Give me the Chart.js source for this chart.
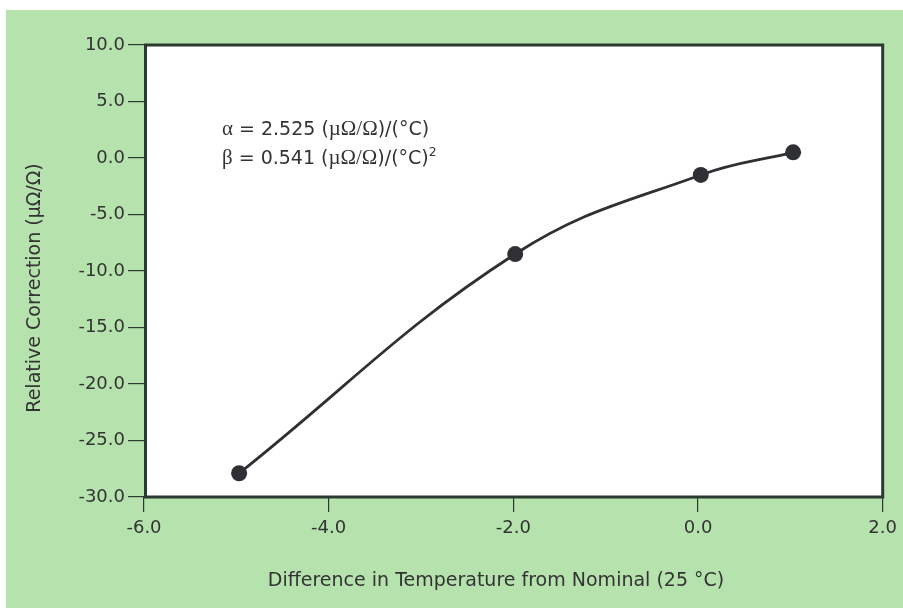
<!DOCTYPE html>
<html lang="en">
<head>
    <meta charset="UTF-8">
    <title>Relative Correction</title>
    <script src="https://cdn.jsdelivr.net/npm/chart.js"></script>
    <style>
        html, body {
            margin: 0;
            padding: 0;
            background: #ffffff;
        }
        canvas {
            display: block;
        }
    </style>
</head>
<body>
    <canvas id="chart" width="903" height="608"></canvas>
    <script>
        // values
        var tempDiff = [-4.97, -1.98, 0.03, 1.03];
        var correction = [-27.9, -8.5, -1.5, 0.5];
        var xTickValues = [-6, -4, -2, 0, 2];
        var yTickValues = [-30, -25, -20, -15, -10, -5, 0, 5, 10];
        var xTitle = 'Difference in Temperature from Nominal (25 \u00B0C)';
        var yTitle = 'Relative Correction (\u00B5\u03A9/\u03A9)';
        // annotation lines, split in runs: [text, serif?, superscript?]
        var alphaLine = [['\u03B1', true], [' = 2.525 (', false], ['\u00B5\u03A9/\u03A9', true], [')/(\u00B0C)', false]];
        var betaLine = [['\u03B2', true], [' = 0.541 (', false], ['\u00B5\u03A9/\u03A9', true], [')/(\u00B0C)', false], ['2', false, true]];

        var green = '#b6e3ad';
        var ink = '#2f3033';
        var axisInk = '#2b3a31';
        var sans = '"DejaVu Sans", sans-serif';
        var serif = '"Liberation Serif", "DejaVu Serif", serif';

        function drawRuns(ctx, runs, x, y, size) {
            for (var i = 0; i < runs.length; i++) {
                var r = runs[i];
                var fs = r[2] ? size * 0.65 : size;
                ctx.font = (r[1] ? size * 1.1 : fs) + 'px ' + (r[1] ? serif : sans);
                ctx.fillText(r[0], x, r[2] ? y - size * 0.42 : y);
                x += ctx.measureText(r[0]).width;
            }
        }

        var frame = {
            id: 'frame',
            beforeDraw: function(chart) {
                var ctx = chart.ctx, a = chart.chartArea;
                ctx.save();
                ctx.fillStyle = '#ffffff';
                ctx.fillRect(0, 0, chart.width, chart.height);
                ctx.fillStyle = green;
                ctx.fillRect(6, 10, chart.width - 6, chart.height - 10);
                ctx.fillStyle = '#ffffff';
                ctx.fillRect(a.left, a.top, a.width, a.height);
                ctx.restore();
            },
            afterDraw: function(chart) {
                var ctx = chart.ctx, a = chart.chartArea;
                ctx.save();
                ctx.strokeStyle = axisInk;
                ctx.lineWidth = 3;
                ctx.strokeRect(a.left + 1.5, a.top, a.width - 1.5, a.height);

                ctx.fillStyle = '#333333';
                ctx.textBaseline = 'middle';
                ctx.textAlign = 'center';
                ctx.font = '19px ' + sans;
                ctx.fillText(xTitle, 496, 581);
                ctx.translate(35, 288);
                ctx.rotate(-Math.PI / 2);
                ctx.fillText(yTitle, 0, 0);
                ctx.restore();

                ctx.save();
                ctx.fillStyle = '#333333';
                ctx.textAlign = 'left';
                ctx.textBaseline = 'alphabetic';
                drawRuns(ctx, alphaLine, 222, 135, 19);
                drawRuns(ctx, betaLine, 222, 164, 19);
                ctx.restore();
            }
        };

        var ctx = document.getElementById('chart').getContext('2d');
        var chart = new Chart(ctx, {
            type: 'line',
            data: {
                datasets: [{
                    data: tempDiff.map(function(x, i) { return { x: x, y: correction[i] }; }),
                    borderColor: ink,
                    borderWidth: 2.8,
                    pointRadius: 8,
                    pointBackgroundColor: ink,
                    pointBorderWidth: 0,
                    tension: 0.4,
                    fill: false
                }]
            },
            options: {
                responsive: false,
                animation: false,
                layout: {
                    padding: { top: 45, right: 20, bottom: 0, left: 0 }
                },
                plugins: {
                    legend: { display: false },
                    tooltip: { enabled: false }
                },
                scales: {
                    x: {
                        type: 'linear',
                        min: -6,
                        max: 2,
                        afterFit: function(scale) { scale.height = 111; },
                        afterBuildTicks: function(scale) {
                            scale.ticks = xTickValues.map(function(v) { return { value: v }; });
                        },
                        border: { display: false },
                        grid: {
                            drawOnChartArea: false,
                            drawTicks: true,
                            tickLength: 15,
                            color: axisInk,
                            lineWidth: 1.2
                        },
                        ticks: {
                            padding: 6,
                            color: '#333333',
                            font: { family: sans, size: 18 },
                            callback: function(v) { return v.toFixed(1); }
                        }
                    },
                    y: {
                        type: 'linear',
                        min: -30,
                        max: 10,
                        afterFit: function(scale) { scale.width = 144; },
                        afterBuildTicks: function(scale) {
                            scale.ticks = yTickValues.map(function(v) { return { value: v }; });
                        },
                        border: { display: false },
                        grid: {
                            drawOnChartArea: false,
                            drawTicks: true,
                            tickLength: 16,
                            color: axisInk,
                            lineWidth: 1.2
                        },
                        ticks: {
                            padding: 3,
                            color: '#333333',
                            font: { family: sans, size: 18 },
                            callback: function(v) { return v.toFixed(1); }
                        }
                    }
                }
            },
            plugins: [frame]
        });
    </script>
</body>
</html>
